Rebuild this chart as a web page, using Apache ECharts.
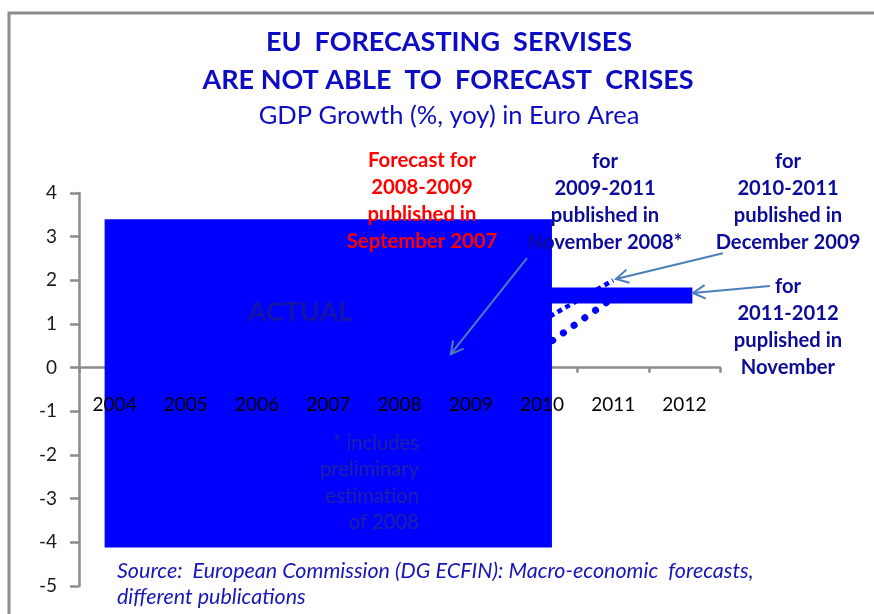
<!DOCTYPE html>
<html>
<head>
<meta charset="utf-8">
<title>EU forecasting services</title>
<script src="https://cdn.jsdelivr.net/npm/echarts@6/dist/echarts.min.js"></script>
<style>
  html, body { margin: 0; padding: 0; background: #ffffff; }
  #chart { width: 874px; height: 614px; }
</style>
</head>
<body>
<div id="chart"></div>
<script>
// Years on the horizontal axis
const years = ['2004', '2005', '2006', '2007', '2008', '2009', '2010', '2011', '2012'];

// Y axis scale (GDP growth, %)
const yMin = -5;
const yMax = 4;
const yStep = 1;

// Solid block covering the actual outturns, 2004-2010 (years, growth range)
const actualYears = [2004, 2010];
const actualRange = [-4.12, 3.4];

// Forecast for 2011-2012, published November 2010
const forecastNov2010 = [[2010, 1.65], [2011, 1.65], [2012, 1.65]];
// Forecast for 2010-2011, published December 2009
const forecastDec2009 = [[2010, 1.07], [2011, 2.0]];
// Forecast for 2009-2011, published November 2008
const forecastNov2008 = [[2010, 0.45], [2011, 1.6]];

// Pointer arrows: [tailYear, tailValue, headYear, headValue]
const pointers = [
  [2009.79, 2.51, 2008.72, 0.31],
  [2012.54, 2.62, 2011.04, 2.03],
  [2013.2, 1.87, 2012.12, 1.71]
];

const FONT = 'Lato, "Open Sans", sans-serif';
const AXIS_GREY = '#8c8c8c';
const BLUE = '#0000ff';
const NAVY = '#0c0c9a';

const GRID = { left: 79, top: 193, width: 641, height: 393 };

const chart = echarts.init(document.getElementById('chart'), null, { renderer: 'canvas' });

function textBlock(lines, x, y0, step, style, align) {
  return lines.map((t, i) => ({
    type: 'text',
    z: 50,
    x: x,
    y: y0 + i * step,
    style: Object.assign({
      text: t,
      align: align || 'center',
      verticalAlign: 'middle',
      fontFamily: FONT
    }, style)
  }));
}

const baseGraphics = [
  // frame
  { type: 'rect', z: 0, silent: true,
    shape: { x: 9, y: 13, width: 900, height: 700 },
    style: { fill: null, stroke: AXIS_GREY, lineWidth: 3 } }
]
  .concat(textBlock(['EU  FORECASTING  SERVISES'], 449, 42, 0,
    { fill: '#0c0cc4', fontSize: 27, fontWeight: 'bold' }))
  .concat(textBlock(['ARE NOT ABLE  TO  FORECAST  CRISES'], 448, 80, 0,
    { fill: '#0c0cc4', fontSize: 27, fontWeight: 'bold' }))
  .concat(textBlock(['GDP Growth (%, yoy) in Euro Area'], 449, 116, 0,
    { fill: '#0c0cc4', fontSize: 25.5 }))
  .concat(textBlock(['Forecast for', '2008-2009', 'published in', 'September 2007'], 422, 160, 27,
    { fill: '#ff0000', fontSize: 20.3, fontWeight: 'bold' }))
  .concat(textBlock(['for', '2009-2011', 'published in', 'November 2008*'], 605, 161, 27,
    { fill: NAVY, fontSize: 20.2, fontWeight: 'bold' }))
  .concat(textBlock(['for', '2010-2011', 'published in', 'December 2009'], 788, 161, 27,
    { fill: NAVY, fontSize: 20.2, fontWeight: 'bold' }))
  .concat(textBlock(['for', '2011-2012', 'puplished in', 'November'], 788, 286, 27,
    { fill: NAVY, fontSize: 20.2, fontWeight: 'bold' }))
  .concat(textBlock(['ACTUAL'], 300, 312, 0,
    { fill: '#1414a6', fontSize: 27, fontWeight: 'bold' }))
  .concat(textBlock(['* includes', 'preliminary', 'estimation', 'of 2008'], 419, 443, 26.5,
    { fill: '#2020a2', fontSize: 20.2 }, 'right'))
  .concat(textBlock(['Source:  European Commission (DG ECFIN): Macro-economic  forecasts,',
                     'different publications'], 117, 571, 26,
    { fill: '#1616b8', fontSize: 21.5, fontStyle: 'italic' }, 'left'));

// The year labels sit on the zero line: shift them up from the grid bottom by the
// share of the value range that lies below zero.
const zeroShift = GRID.height * (0 - yMin) / (yMax - yMin);

const option = {
  animation: false,
  backgroundColor: '#ffffff',
  grid: Object.assign({ containLabel: false, outerBoundsMode: 'none' }, GRID),
  xAxis: [
    {
      // axis line and ticks (beneath the marks)
      type: 'category', data: years, boundaryGap: true, z: 1,
      axisLine: { onZero: true, onZeroAxisIndex: 0, lineStyle: { color: AXIS_GREY, width: 2.5 } },
      axisTick: { show: true, length: 5, lineStyle: { color: AXIS_GREY, width: 2.5 } },
      axisLabel: { show: false },
      splitLine: { show: false }
    },
    {
      // year labels (drawn above the marks)
      type: 'category', data: years, boundaryGap: true, position: 'bottom', z: 20,
      offset: -zeroShift,
      axisLine: { show: false, onZero: false },
      axisTick: { show: false },
      axisLabel: { show: true, margin: 28, color: '#000000', fontSize: 19, fontFamily: FONT },
      splitLine: { show: false }
    },
    {
      // continuous year scale used to place the marks
      type: 'value', min: 2003.5, max: 2012.5, show: false,
      splitLine: { show: false }
    }
  ],
  yAxis: {
    type: 'value', min: yMin, max: yMax, interval: yStep, position: 'left',
    axisLine: { show: true, onZero: false, lineStyle: { color: AXIS_GREY, width: 2.5 } },
    axisTick: { show: true, length: 9, lineStyle: { color: AXIS_GREY, width: 2.5 } },
    axisLabel: { margin: 22, color: '#1a1a1a', fontSize: 19, fontFamily: FONT },
    splitLine: { show: false }
  },
  series: [
    {
      name: 'Nov 2008 forecast', type: 'line', xAxisIndex: 2, yAxisIndex: 0, z: 3,
      data: forecastNov2008, symbol: 'none', clip: false,
      lineStyle: { color: BLUE, width: 7, type: [0.1, 13], cap: 'round' }
    },
    {
      name: 'Dec 2009 forecast', type: 'line', xAxisIndex: 2, yAxisIndex: 0, z: 3,
      data: forecastDec2009, symbol: 'none', clip: false,
      lineStyle: { color: BLUE, width: 4.5, type: [5, 4], cap: 'butt' }
    },
    {
      name: 'Nov 2010 forecast', type: 'line', xAxisIndex: 2, yAxisIndex: 0, z: 4,
      data: forecastNov2010, symbol: 'none', clip: false,
      lineStyle: { color: BLUE, width: 16, cap: 'square' }
    },
    {
      name: 'ACTUAL', type: 'custom', xAxisIndex: 2, yAxisIndex: 0, z: 5,
      data: [[actualYears[0], actualYears[1], actualRange[0], actualRange[1]]],
      renderItem: function (params, api) {
        const p0 = api.coord([api.value(0), api.value(3)]);
        const p1 = api.coord([api.value(1), api.value(2)]);
        const pad = 10;
        return {
          type: 'rect',
          shape: { x: p0[0] - pad, y: p0[1], width: p1[0] - p0[0] + 2 * pad, height: p1[1] - p0[1] },
          style: { fill: BLUE }
        };
      },
      encode: { x: [0, 1], y: [2, 3] }
    }
  ],
  graphic: baseGraphics
};

chart.setOption(option);

// Arrows placed through the same year/value scale as the marks
const ARROW = '#4a7ebb';
const arrowGraphics = [];
pointers.forEach(p => {
  const tail = chart.convertToPixel({ xAxisIndex: 2, yAxisIndex: 0 }, [p[0], p[1]]);
  const head = chart.convertToPixel({ xAxisIndex: 2, yAxisIndex: 0 }, [p[2], p[3]]);
  const ang = Math.atan2(tail[1] - head[1], tail[0] - head[0]);
  const L = 14, spread = 0.5;
  const a1 = [head[0] + L * Math.cos(ang + spread), head[1] + L * Math.sin(ang + spread)];
  const a2 = [head[0] + L * Math.cos(ang - spread), head[1] + L * Math.sin(ang - spread)];
  arrowGraphics.push({
    type: 'line', z: 60, silent: true,
    shape: { x1: tail[0], y1: tail[1], x2: head[0], y2: head[1] },
    style: { stroke: ARROW, lineWidth: 2 }
  });
  arrowGraphics.push({
    type: 'polyline', z: 60, silent: true,
    shape: { points: [a1, head, a2] },
    style: { stroke: ARROW, lineWidth: 2, fill: null }
  });
});

chart.setOption({ graphic: baseGraphics.concat(arrowGraphics) }, { replaceMerge: ['graphic'] });
</script>
</body>
</html>
